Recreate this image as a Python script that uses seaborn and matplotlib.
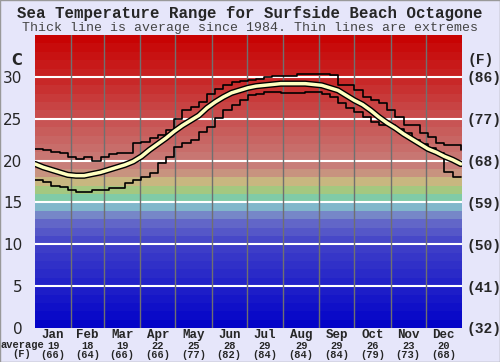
import numpy as np
import pandas as pd
import matplotlib
matplotlib.use("Agg")
import matplotlib.pyplot as plt
import seaborn as sns
from matplotlib.transforms import blended_transform_factory

# weekly values, sea temperature in C
days = list(range(0, 365, 7))
avg_temp = [19.6, 19.2, 18.9, 18.6, 18.3, 18.2, 18.2, 18.4, 18.6, 18.9, 19.2, 19.5, 19.9,
            20.5, 21.3, 22.0, 22.7, 23.5, 24.2, 24.8, 25.4, 26.3, 27.0, 27.6, 28.1, 28.4,
            28.7, 28.9, 29.0, 29.1, 29.2, 29.2, 29.2, 29.2, 29.1, 29.0, 28.7, 28.4, 27.8,
            27.2, 26.7, 26.0, 25.2, 24.5, 23.9, 23.2, 22.6, 22.0, 21.4, 21.0, 20.5, 20.1, 19.6]
max_temp = [21.4, 21.3, 21.0, 20.9, 20.4, 20.2, 20.4, 20.0, 20.4, 20.8, 20.9, 20.9, 22.1,
            22.2, 22.7, 23.1, 23.7, 25.0, 26.0, 26.4, 27.0, 28.0, 28.6, 29.0, 29.4, 29.5,
            29.6, 29.8, 30.0, 30.1, 30.1, 30.1, 30.3, 30.3, 30.3, 30.3, 30.2, 29.0, 29.0,
            28.4, 27.6, 27.2, 26.9, 26.0, 25.2, 24.3, 24.3, 23.3, 22.8, 22.1, 21.9, 21.9, 21.3]
min_temp = [17.7, 17.5, 17.0, 16.8, 16.5, 16.2, 16.2, 16.5, 16.5, 16.7, 16.7, 17.3, 17.7,
            18.0, 18.5, 19.7, 20.4, 21.6, 22.1, 22.5, 23.4, 24.0, 25.1, 26.0, 26.6, 27.2,
            27.8, 28.0, 28.2, 28.2, 28.1, 28.1, 28.1, 28.2, 28.2, 28.0, 27.6, 26.9, 26.3,
            25.8, 25.2, 24.6, 24.3, 24.3, 23.8, 23.3, 22.5, 22.0, 21.5, 20.9, 18.6, 18.0, 18.0]

months = ["Jan", "Feb", "Mar", "Apr", "May", "Jun", "Jul", "Aug", "Sep", "Oct", "Nov", "Dec"]
month_avg_c = [19, 18, 19, 22, 25, 28, 29, 29, 29, 26, 23, 20]
month_avg_f = [66, 64, 66, 66, 77, 82, 84, 84, 84, 79, 73, 68]
month_start = [0, 31, 59, 90, 120, 151, 181, 212, 243, 273, 304, 334, 365]
c_ticks = [0, 5, 10, 15, 20, 25, 30]
f_labels = ["(32)", "(41)", "(50)", "(59)", "(68)", "(77)", "(86)"]

df = pd.DataFrame({"day": days, "avg": avg_temp, "max": max_temp, "min": min_temp})

bg = "#e6e6fa"
mono = "Liberation Mono"

sns.set_style("white")
fig = plt.figure(figsize=(5.0, 3.62), dpi=100, facecolor=bg)
ax = fig.add_axes([0.07, 0.094, 0.854, 0.809])

# background colour bands, one per degree
anchor_t = [0, 10, 13, 14, 15, 16, 17, 18, 19, 25, 30, 35]
anchor_rgb = np.array([[0, 0, 200], [64, 64, 200], [105, 110, 200], [130, 160, 200],
                       [128, 205, 205], [128, 200, 128], [200, 200, 128], [200, 165, 128],
                       [200, 130, 125], [200, 80, 80], [200, 35, 35], [200, 0, 0]]) / 255
for t in range(35):
    c = [np.interp(t + 0.5, anchor_t, anchor_rgb[:, k]) for k in range(3)]
    ax.axhspan(t, t + 1, color=c, lw=0, zorder=0)

for t in c_ticks[1:]:
    ax.axhline(t, color="white", lw=1.5, zorder=1)
for d in month_start[1:-1]:
    ax.axvline(d, color="#707070", lw=1, zorder=1)

sns.lineplot(data=df, x="day", y="max", ax=ax, color="black", lw=1.2,
             drawstyle="steps-post", zorder=3)
sns.lineplot(data=df, x="day", y="min", ax=ax, color="black", lw=1.2,
             drawstyle="steps-post", zorder=3)
sns.lineplot(data=df, x="day", y="avg", ax=ax, color="black", lw=4.5, zorder=4)
sns.lineplot(data=df, x="day", y="avg", ax=ax, color="#ffffc0", lw=2.5, zorder=5)

ax.set_xlim(0, 365)
ax.set_ylim(0, 35)
ax.set_xlabel("")
ax.set_ylabel("")
ax.set_xticks([])
ax.set_yticks(c_ticks)
ax.set_yticklabels([str(t) for t in c_ticks], fontsize=11)
ax.tick_params(axis="y", length=0, pad=9)
for s in ax.spines.values():
    s.set_visible(False)

ax2 = ax.twinx()
ax2.set_ylim(0, 35)
ax2.set_yticks(c_ticks)
ax2.set_yticklabels(f_labels, fontsize=10.5, family=mono, fontweight="bold")
ax2.tick_params(axis="y", length=0, pad=3)
for s in ax2.spines.values():
    s.set_visible(False)

tr = blended_transform_factory(ax.transData, ax.transAxes)
for i, m in enumerate(months):
    mid = (month_start[i] + month_start[i + 1]) / 2
    ax.text(mid, -0.024, m, transform=tr, ha="center", va="center",
            fontsize=9, family=mono, fontweight="bold")
    ax.text(mid, -0.060, str(month_avg_c[i]), transform=tr, ha="center", va="center",
            fontsize=7.5, family=mono, fontweight="bold")
    ax.text(mid, -0.092, "(%d)" % month_avg_f[i], transform=tr, ha="center", va="center",
            fontsize=7.5, family=mono, fontweight="bold")

fig.text(0.044, 0.047, "average", ha="center", va="center", fontsize=7.5,
         family=mono, fontweight="bold")
fig.text(0.044, 0.022, "(F)", ha="center", va="center", fontsize=7.5,
         family=mono, fontweight="bold")
fig.text(0.034, 0.834, "C", ha="center", va="center", fontsize=10.5, fontweight="bold")
fig.text(0.962, 0.834, "(F)", ha="center", va="center", fontsize=10.5,
         family=mono, fontweight="bold")

fig.text(0.5, 0.963, "Sea Temperature Range for Surfside Beach Octagone", ha="center",
         va="center", fontsize=11.3, family=mono, fontweight="bold")
fig.text(0.5, 0.922, "Thick line is average since 1984. Thin lines are extremes",
         ha="center", va="center", fontsize=9.5, family=mono, color="#444444")

fig.patches.append(plt.Rectangle((0, 0), 1, 1, transform=fig.transFigure, fill=False,
                                 edgecolor="#999999", lw=1))

fig.savefig("out.png", dpi=100, facecolor=bg)
